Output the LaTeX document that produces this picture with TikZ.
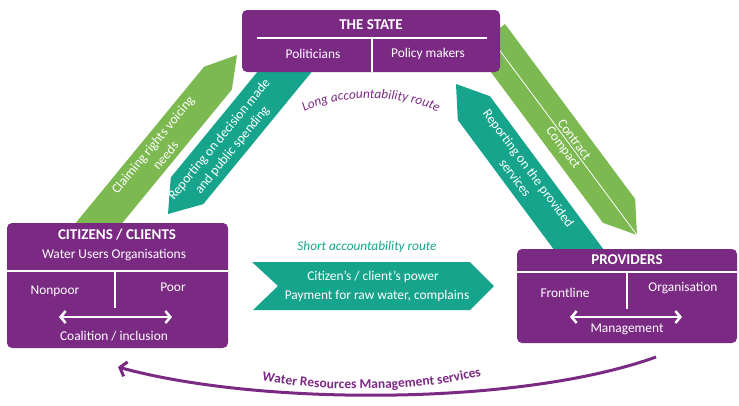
\documentclass[tikz,border=0pt]{standalone}
\usepackage{fontspec}
\setmainfont{Carlito}
\usetikzlibrary{calc,arrows.meta,decorations.text}

\definecolor{wpurple}{RGB}{123,42,132}
\definecolor{wgreen}{RGB}{124,185,80}
\definecolor{wteal}{RGB}{22,165,140}

\begin{document}
\begin{tikzpicture}[x=1pt,y=-1pt,
    box/.style={fill=wpurple, rounded corners=5pt},
    sep/.style={white, line width=1.2pt},
    txt/.style={text=white, font=\fontsize{13.4}{15.5}\selectfont, align=center},
    bandtxt/.style={txt, font=\fontsize{13.4}{16.5}\selectfont},
    title/.style={text=white, font=\fontsize{15}{17}\selectfont\bfseries},
    twoway/.style={white, line width=2.5pt,
      {Straight Barb[length=5pt,width=12pt]}-{Straight Barb[length=5pt,width=12pt]}}
  ]

    \useasboundingbox (0,0) rectangle (739,405);

    % band arrows (tails hidden behind the boxes)
    \coordinate (gl tail) at (85,240);
    \coordinate (gl tip) at (237,55);
    \coordinate (tl tail) at (314,36);
    \coordinate (tl tip) at (168,214);
    \coordinate (gr tail) at (489,36);
    \coordinate (gr tip) at (637,235);
    \coordinate (tr tail) at (605,285);
    \coordinate (tr tip) at (456,84);

    \coordinate (gl head) at ($(gl tip)!30pt!(gl tail)$);
    \coordinate (tl head) at ($(tl tip)!30pt!(tl tail)$);
    \coordinate (gr head) at ($(gr tip)!30pt!(gr tail)$);
    \coordinate (tr head) at ($(tr tip)!30pt!(tr tail)$);

    \fill[wgreen] ($(gl tail)!18pt!90:(gl tip)$) -- ($(gl head)!18pt!90:(gl tip)$) -- (gl tip)
      -- ($(gl head)!18pt!-90:(gl tip)$) -- ($(gl tail)!18pt!-90:(gl tip)$) -- cycle;
    \fill[wteal] ($(tl tail)!21pt!90:(tl tip)$) -- ($(tl head)!21pt!90:(tl tip)$) -- (tl tip)
      -- ($(tl head)!21pt!-90:(tl tip)$) -- ($(tl tail)!21pt!-90:(tl tip)$) -- cycle;
    \fill[wgreen] ($(gr tail)!20pt!90:(gr tip)$) -- ($(gr head)!20pt!90:(gr tip)$) -- (gr tip)
      -- ($(gr head)!20pt!-90:(gr tip)$) -- ($(gr tail)!20pt!-90:(gr tip)$) -- cycle;
    \fill[wteal] ($(tr tail)!20pt!90:(tr tip)$) -- ($(tr head)!20pt!90:(tr tip)$) -- (tr tip)
      -- ($(tr head)!20pt!-90:(tr tip)$) -- ($(tr tail)!20pt!-90:(tr tip)$) -- cycle;

    \node[bandtxt, rotate=50.6] (gl text) at (159,150) {Claiming rights voicing\\needs};
    \node[bandtxt, rotate=50.6] (tl text) at (226,145) {Reporting on decision made\\and public spending};
    \node[bandtxt, rotate=-53.4] (tr text) at (522,173) {Reporting on the provided\\services};
    \draw[white, line width=0.8pt] (gr tail) -- (gr tip)
      node[txt, pos=0.54, sloped, above, inner sep=2pt] (contract) {Contract}
      node[txt, pos=0.54, sloped, below, inner sep=2pt] (compact) {Compact};

    % the state
    \fill[box] (242,10) rectangle (500,72);
    \node[title] (state) at (371,25) {THE STATE};
    \draw[sep] (257,38) -- (487,38);
    \draw[sep] (372,38) -- (372,72);
    \node[txt] (politicians) at (313,54) {Politicians};
    \node[txt] (policy) at (428,54) {Policy makers};

    % citizens / clients
    \fill[box] (7,223) rectangle (228,348);
    \node[title] (citizens) at (117,235) {CITIZENS / CLIENTS};
    \node[txt] (wuo) at (114,255) {Water Users Organisations};
    \draw[sep] (7,271) -- (228,271);
    \draw[sep] (115,271) -- (115,308);
    \node[txt] (nonpoor) at (55,291) {Nonpoor};
    \node[txt] (poor) at (173,287) {Poor};
    \coordinate (cl a) at (59,317);
    \coordinate (cl b) at (172,317);
    \draw[twoway] (cl a) -- (cl b);
    \node[txt] (coalition) at (114,336) {Coalition / inclusion};

    % providers
    \fill[box] (517,249) rectangle (737,343);
    \node[title] (providers) at (627,260) {PROVIDERS};
    \draw[sep] (517,272) -- (737,272);
    \draw[sep] (627,272) -- (627,309);
    \node[txt] (frontline) at (565,293) {Frontline};
    \node[txt] (organisation) at (683,288) {Organisation};
    \coordinate (pr a) at (570,317);
    \coordinate (pr b) at (682,317);
    \draw[twoway] (pr a) -- (pr b);
    \node[txt] (management) at (627,329) {Management};

    % short route
    \fill[wteal] (252,262) -- (470,262) -- (494,286) -- (470,310) -- (253,310) -- (278,286) -- cycle;
    \node[txt] (power) at (373,277) {Citizen’s / client’s power};
    \node[txt] (payment) at (377,296) {Payment for raw water, complains};
    \node[text=wteal, font=\fontsize{13.3}{15}\selectfont\itshape] (short) at (367,247) {Short accountability route};

    % long route
    \path[decorate, decoration={text along path, text align=center,
      text={|\fontsize{13.3}{15}\selectfont\itshape\color{wpurple}|Long accountability route}}]
      (296,117) .. controls (330,92) and (410,92) .. (446,117);

    % water resources management services
    \coordinate (wrm a) at (656,357);
    \coordinate (wrm b) at (118,367);
    \draw[wpurple, line width=3pt, -{Straight Barb[length=6pt,width=15pt]}]
      (wrm a) .. controls (520,406) and (260,406) .. (wrm b);
    \path[decorate, decoration={text along path, text align=center,
      text={|\fontsize{13.5}{15}\selectfont\bfseries\color{wpurple}|Water Resources Management services}}]
      (255,379) .. controls (320,393) and (420,393) .. (488,374);

\end{tikzpicture}
\end{document}
